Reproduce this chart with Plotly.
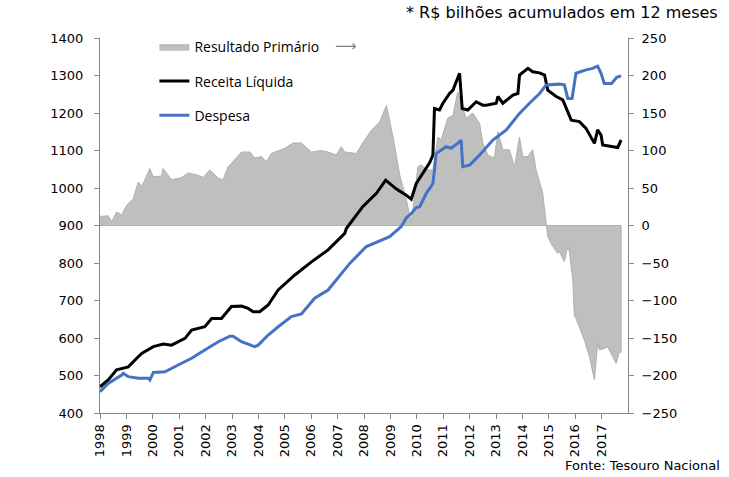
import plotly.graph_objects as go

# ---------------- data ----------------
receita_x = [1998.00, 1998.31, 1998.63, 1999.07, 1999.45, 1999.58, 2000.02, 2000.40, 2000.71,
             2001.22, 2001.47, 2001.97, 2002.23, 2002.60, 2002.98, 2003.36, 2003.61, 2003.80,
             2004.05, 2004.37, 2004.75, 2005.38, 2006.01, 2006.64, 2007.27, 2007.33, 2007.96,
             2008.47, 2008.82, 2009.23, 2009.60, 2009.79, 2009.98, 2010.23, 2010.49, 2010.61,
             2010.67, 2010.86, 2010.99, 2011.24, 2011.37, 2011.62, 2011.72, 2011.93, 2012.25,
             2012.50, 2012.63, 2013.01, 2013.07, 2013.26, 2013.64, 2013.83, 2013.89, 2014.21,
             2014.39, 2014.65, 2014.84, 2014.96, 2015.28, 2015.53, 2015.85, 2016.16, 2016.41,
             2016.73, 2016.85, 2016.98, 2017.04, 2017.61, 2017.74]
receita = [470, 488, 515, 523, 550, 559, 577, 584, 581,
           599, 621, 630, 652, 652, 684, 685, 679, 670,
           670, 688, 728, 768, 803, 835, 879, 892, 951,
           986, 1021, 997, 981, 970, 1012, 1039, 1068, 1088,
           1212, 1208, 1226, 1252, 1261, 1306, 1212, 1208, 1230,
           1221, 1221, 1226, 1244, 1226, 1248, 1252, 1301, 1319,
           1310, 1307, 1301, 1261, 1244, 1235, 1181, 1177, 1159,
           1119, 1155, 1141, 1115, 1108, 1128]

despesa_x = [1998.00, 1998.31, 1998.82, 1998.88, 1999.07, 1999.45, 1999.83, 1999.89, 2000.02,
             2000.46, 2000.96, 2001.47, 2001.97, 2002.48, 2002.92, 2003.04, 2003.36, 2003.86,
             2003.99, 2004.37, 2004.75, 2005.25, 2005.63, 2006.13, 2006.64, 2006.89, 2007.24,
             2007.46, 2008.09, 2008.59, 2008.97, 2009.41, 2009.60, 2009.79, 2009.98, 2010.11,
             2010.36, 2010.49, 2010.61, 2010.67, 2010.73, 2011.11, 2011.30, 2011.62, 2011.68,
             2011.74, 2012.00, 2012.38, 2012.88, 2013.39, 2013.89, 2014.27, 2014.65, 2014.90,
             2015.40, 2015.59, 2015.72, 2015.88, 2016.03, 2016.41, 2016.66, 2016.85, 2016.98,
             2017.10, 2017.38, 2017.57, 2017.74]
despesa = [457, 479, 501, 506, 497, 493, 493, 488, 508,
           510, 528, 546, 568, 590, 605, 605, 590, 577,
           581, 608, 630, 657, 664, 706, 728, 750, 781,
           799, 844, 859, 870, 897, 920, 932, 948, 950,
           986, 999, 1012, 1048, 1092, 1110, 1106, 1123, 1128,
           1057, 1061, 1088, 1128, 1155, 1199, 1226, 1252, 1275,
           1277, 1275, 1239, 1239, 1306, 1315, 1319, 1325, 1306,
           1279, 1279, 1295, 1299]

primario_x = [1998.00, 1998.31, 1998.44, 1998.63, 1998.82, 1999.01, 1999.26, 1999.45, 1999.58,
              1999.89, 2000.01, 2000.33, 2000.39, 2000.71, 2001.09, 2001.34, 2001.72, 2001.91,
              2002.16, 2002.48, 2002.66, 2002.85, 2003.36, 2003.68, 2003.86, 2004.12, 2004.30,
              2004.49, 2005.00, 2005.31, 2005.63, 2006.01, 2006.38, 2006.64, 2006.95, 2007.14,
              2007.27, 2007.71, 2007.90, 2008.28, 2008.59, 2008.85, 2009.10, 2009.35, 2009.60,
              2009.79, 2009.98, 2010.04, 2010.17, 2010.36, 2010.61, 2010.80, 2010.92, 2011.17,
              2011.37, 2011.55, 2011.68, 2011.87, 2012.12, 2012.38, 2012.50, 2012.69, 2012.94,
              2013.07, 2013.26, 2013.51, 2013.70, 2013.89, 2014.01, 2014.21, 2014.39, 2014.52,
              2014.77, 2014.90, 2014.96, 2015.15, 2015.34, 2015.40, 2015.59, 2015.72, 2015.78,
              2015.91, 2015.97, 2016.03, 2016.16, 2016.35, 2016.54, 2016.73, 2016.85, 2016.92,
              2017.10, 2017.23, 2017.42, 2017.55, 2017.67, 2017.74]
primario = [12, 13, 5, 18, 14, 27, 36, 58, 52,
            76, 65, 66, 76, 61, 64, 70, 67, 64,
            74, 63, 61, 78, 98, 98, 90, 92, 85,
            96, 103, 110, 110, 98, 100, 98, 94, 105,
            98, 96, 107, 127, 138, 160, 118, 68, 35,
            3, 60, 78, 81, 74, 74, 118, 114, 143,
            147, 178, 163, 143, 150, 136, 110, 94, 90,
            125, 101, 101, 78, 118, 92, 92, 101, 74,
            43, 0, -15, -28, -37, -35, -48, -28, -35,
            -73, -121, -124, -135, -153, -175, -206, -157, -166,
            -164, -162, -175, -184, -169, -169]

year_ticks = list(range(1998, 2018))
left_ticks = list(range(400, 1401, 100))
right_ticks = list(range(-250, 251, 50))

# ---------------- figure ----------------
AX = "#868686"
TICKFONT = dict(family="DejaVu Sans", size=13, color="#000000")

fig = go.Figure()

# area (on the base y axis, drawn beneath), closed down to zero so the base outline shows
fig.add_trace(go.Scatter(
    x=primario_x + primario_x[::-1],
    y=primario + [0] * len(primario),
    fill="toself", fillcolor="#BFBFBF",
    line=dict(color="#B0B0B0", width=1),
    mode="lines", name="Resultado Primário",
    yaxis="y", legendgroup="a", legendrank=1, hoverinfo="skip",
))
fig.add_trace(go.Scatter(
    x=receita_x, y=receita, mode="lines", name="Receita Líquida", yaxis="y2",
    line=dict(color="#000000", width=3), legendgroup="b", legendrank=2,
))
fig.add_trace(go.Scatter(
    x=despesa_x, y=despesa, mode="lines", name="Despesa", yaxis="y2",
    line=dict(color="#4472C4", width=3), legendgroup="c", legendrank=3,
))

fig.update_layout(
    width=729, height=477,
    margin=dict(l=100, r=101, t=38, b=64),
    paper_bgcolor="#FFFFFF", plot_bgcolor="#FFFFFF",
    showlegend=True,
    legend=dict(
        x=0.103, y=1.018, xanchor="left", yanchor="top",
        bgcolor="rgba(0,0,0,0)", traceorder="grouped", tracegroupgap=13,
        font=dict(family="Open Sans", size=14, color="#000000"),
        itemwidth=30,
    ),
    xaxis=dict(
        range=[1998, 2018], tickvals=year_ticks, ticktext=[str(y) for y in year_ticks],
        tickangle=-90, showgrid=False, zeroline=False,
        showline=True, linecolor=AX, linewidth=1,
        ticks="outside", ticklen=5, tickcolor=AX, tickfont=TICKFONT,
    ),
    yaxis=dict(
        range=[-250, 250], tickvals=right_ticks, side="right",
        showgrid=False, zeroline=False, showline=True, linecolor=AX, linewidth=1,
        ticks="outside", ticklen=5, tickcolor=AX, tickfont=TICKFONT,
        ticklabelstandoff=5,
    ),
    yaxis2=dict(
        range=[400, 1400], tickvals=left_ticks, overlaying="y", side="left",
        showgrid=False, zeroline=False,
        showline=True, linecolor=AX, linewidth=1,
        ticks="outside", ticklen=5, tickcolor=AX, tickfont=TICKFONT,
        ticklabelstandoff=8,
    ),
    annotations=[
        dict(text="* R$ bilhões acumulados em 12 meses", xref="paper", yref="paper",
             x=1.174, y=1.069, xanchor="right", yanchor="middle", showarrow=False,
             font=dict(family="DejaVu Sans", size=16, color="#000000")),
        dict(text="Fonte: Tesouro Nacional", xref="paper", yref="paper",
             x=1.178, y=-0.141, xanchor="right", yanchor="middle", showarrow=False,
             font=dict(family="DejaVu Sans", size=13, color="#000000")),
        dict(text="⟶", xref="paper", yref="paper",
             x=0.465, y=0.979, xanchor="center", yanchor="middle", showarrow=False,
             font=dict(family="DejaVu Sans", size=15, color="#7F7F7F")),
    ],
)

fig.write_html("out.html")
